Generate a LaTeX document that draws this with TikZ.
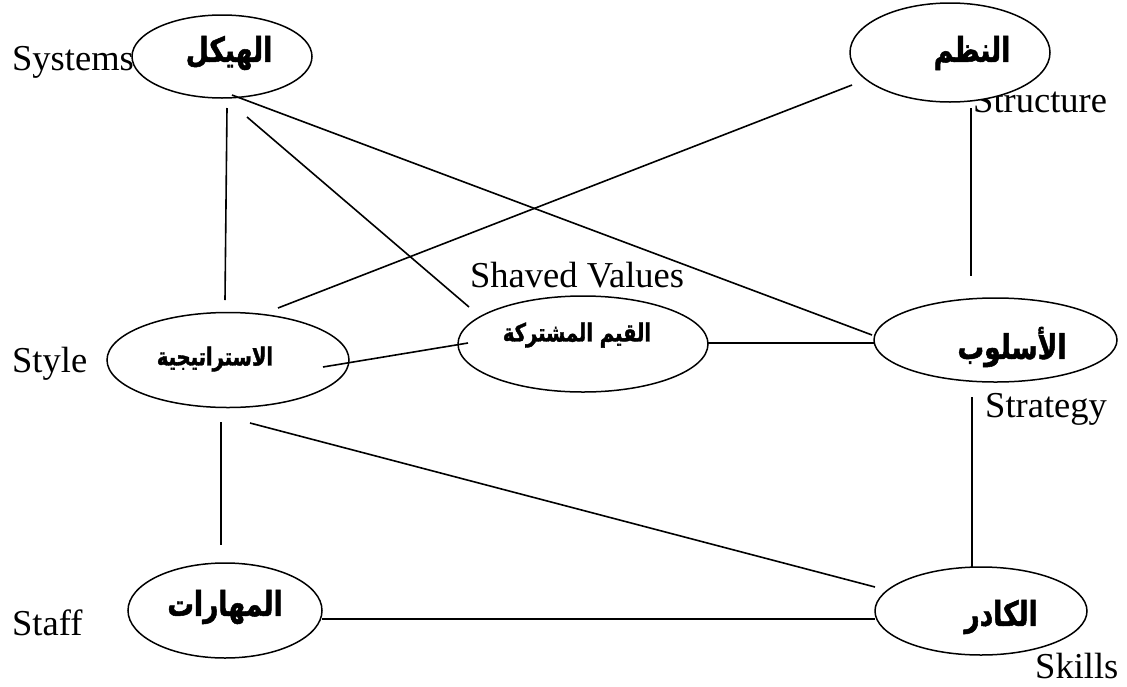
\documentclass[tikz,border=0pt]{standalone}
\usepackage{fontspec}
\setmainfont{Liberation Serif}
\newfontfamily\arabicfont[Script=Arabic,FakeStretch=0.78,FakeBold=1.5]{DejaVu Sans}
\TeXXeTstate=1
\usetikzlibrary{shapes.geometric}
\tikzset{
  oval/.style={draw=black, line width=1.5pt, fill=white, ellipse, inner sep=0pt},
  latin/.style={anchor=base west, inner sep=0pt, font=\fontsize{36.5}{40}\selectfont},
  arab/.style={inner sep=0pt, font=\arabicfont\bfseries\fontsize{#1}{#1}\selectfont},
  conn/.style={line width=1.6pt, line cap=butt}
}
\begin{document}
\begin{tikzpicture}[x=1pt,y=-1pt]
\useasboundingbox (0,0) rectangle (1127,686);
% English labels
\node[latin] (lsys) at (12,70) {Systems};
\node[latin] (lstr) at (973,112) {Structure};
\node[latin] (lsha) at (470,287) {Shaved Values};
\node[latin] (lsty) at (12,372) {Style};
\node[latin] (lstg) at (985,417) {Strategy};
\node[latin] (lsta) at (12,635) {Staff};
\node[latin] (lski) at (1035,678) {Skills};
% ellipses
\node[oval, minimum width=180pt, minimum height=83pt] (e1) at (222,56.5) {};
\node[oval, minimum width=200pt, minimum height=99pt] (e2) at (950,52.5) {};
\node[oval, minimum width=242pt, minimum height=95pt] (e3) at (228,360) {};
\node[oval, minimum width=250pt, minimum height=96pt] (e4) at (583,344) {};
\node[oval, minimum width=243pt, minimum height=84pt] (e5) at (995.5,340) {};
\node[oval, minimum width=194pt, minimum height=95pt] (e6) at (225,610.5) {};
\node[oval, minimum width=212pt, minimum height=88pt] (e7) at (981,611) {};
% connector ends
\coordinate (a1) at (227,108); \coordinate (b1) at (225,300);
\coordinate (a2) at (247,117); \coordinate (b2) at (469,307);
\coordinate (a3) at (232,95);  \coordinate (b3) at (872,335);
\coordinate (a4) at (852,85);  \coordinate (b4) at (278,308);
\coordinate (a5) at (971,108); \coordinate (b5) at (971,276);
\coordinate (a6) at (323,367); \coordinate (b6) at (468,343);
\coordinate (a7) at (708,343); \coordinate (b7) at (874,343);
\coordinate (a8) at (972,397); \coordinate (b8) at (972,567);
\coordinate (a9) at (221,422); \coordinate (b9) at (221,545);
\coordinate (a10) at (250,423); \coordinate (b10) at (875,587);
\coordinate (a11) at (322,619); \coordinate (b11) at (875,619);
\foreach \i in {1,...,11} { \draw[conn] (a\i) -- (b\i); }
% Arabic labels
\node[arab=34] (t1) at (229,53) {\beginR الهيكل\endR};
\node[arab=34] (t2) at (972,53) {\beginR النظم\endR};
\node[arab=25] (t3) at (215,359) {\beginR الاستراتيجية\endR};
\node[arab=25] (t4) at (577,335) {\beginR القيم المشتركة\endR};
\node[arab=34] (t5) at (1012,347) {\beginR الأسلوب\endR};
\node[arab=34] (t6) at (225,607) {\beginR المهارات\endR};
\node[arab=34] (t7) at (1001,617) {\beginR الكادر\endR};
\end{tikzpicture}
\end{document}
